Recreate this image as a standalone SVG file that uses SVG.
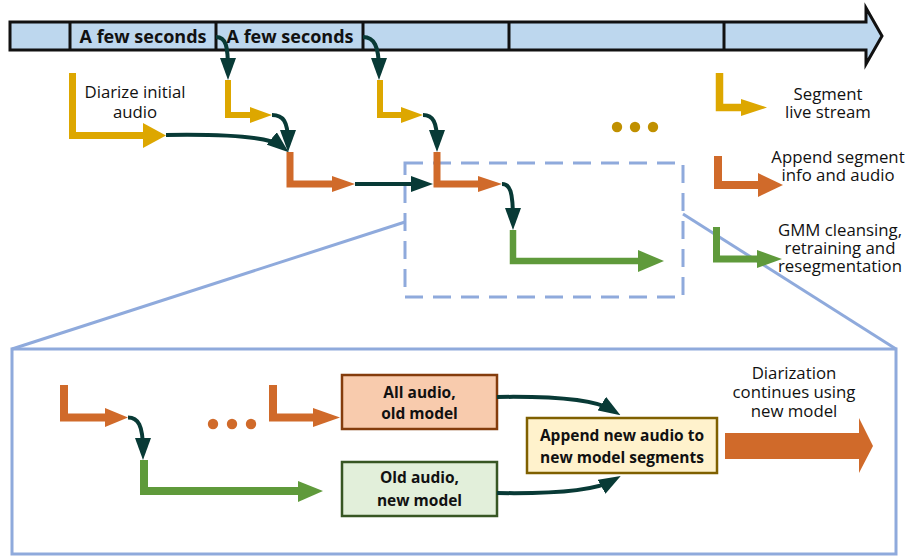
<svg xmlns="http://www.w3.org/2000/svg" width="908" height="556" viewBox="0 0 908 556">
  <style>
    .t { font-family: "Open Sans", "Noto Sans", "Liberation Sans", sans-serif; font-size: 16.8px; fill: #111; text-anchor: middle; }
    .tl { font-family: "Open Sans", "Noto Sans", "Liberation Sans", sans-serif; font-size: 18px; font-weight: bold; fill: #111; text-anchor: middle; }
    .tb { font-family: "Open Sans", "Noto Sans", "Liberation Sans", sans-serif; font-size: 15.5px; font-weight: bold; fill: #111; text-anchor: middle; }
    .gold { stroke: #DDA700; fill: none; stroke-linejoin: miter; }
    .goldh { fill: #DDA700; }
    .org { stroke: #D06A2A; fill: none; stroke-linejoin: miter; }
    .orgh { fill: #D06A2A; }
    .grn { stroke: #5F9A3B; fill: none; stroke-linejoin: miter; }
    .grnh { fill: #5F9A3B; }
    .conn { stroke: #083A36; stroke-width: 4; fill: none; marker-end: url(#dk); }
    .zoom { stroke: #8FAADC; stroke-width: 3; fill: none; }
  </style>
  <defs>
    <marker id="dk" viewBox="0 0 22 16" refX="12" refY="8" markerWidth="22" markerHeight="16" markerUnits="userSpaceOnUse" orient="auto">
      <path d="M0,0 L22,8 L0,16 Z" fill="#083A36"/>
    </marker>
  </defs>

  <!-- zoom callout lines and frames -->
  <g id="zoom-callout">
    <line class="zoom" x1="12" y1="349" x2="405" y2="222"/>
    <line class="zoom" x1="683" y1="214" x2="896" y2="349"/>
    <rect class="zoom" x="405" y="163" width="278" height="134" stroke-dasharray="18 10"/>
    <rect class="zoom" x="12" y="349" width="884" height="205"/>
  </g>

  <!-- live stream timeline -->
  <g id="timeline">
    <path d="M10,22 L866,22 L866,8 L882,36 L866,64 L866,50 L10,50 Z" fill="#BDD7EE" stroke="#111" stroke-width="3" stroke-linejoin="miter"/>
    <g stroke="#111" stroke-width="3">
      <line x1="70" y1="22" x2="70" y2="50"/>
      <line x1="216" y1="22" x2="216" y2="50"/>
      <line x1="363" y1="22" x2="363" y2="50"/>
      <line x1="509" y1="22" x2="509" y2="50"/>
      <line x1="724" y1="22" x2="724" y2="50"/>
    </g>
    <text class="tl" x="143" y="42.5">A few seconds</text>
    <text class="tl" x="290" y="42.5">A few seconds</text>
  </g>

  <!-- segment steps -->
  <g id="diarize-initial">
    <path class="gold" stroke-width="7" d="M72.5,73 V135.5 H144"/>
    <polygon class="goldh" points="143,123 166,135.5 143,148"/>
    <text class="t" x="135" y="98"><tspan x="135">Diarize initial</tspan><tspan x="135" dy="20">audio</tspan></text>
  </g>
  <g id="seg-1">
    <path class="gold" stroke-width="6" d="M228,80 V115 H251"/>
    <polygon class="goldh" points="250,107 272,115 250,123"/>
  </g>
  <g id="seg-2">
    <path class="gold" stroke-width="6" d="M380,80 V115 H402"/>
    <polygon class="goldh" points="401,107 423,115 401,123"/>
  </g>
  <g id="append-1">
    <path class="org" stroke-width="7" d="M290,152 V184 H333"/>
    <polygon class="orgh" points="332,176 355,184 332,192"/>
  </g>
  <g id="append-2">
    <path class="org" stroke-width="7" d="M437,152 V184 H479"/>
    <polygon class="orgh" points="478,176 502,184 478,192"/>
  </g>
  <g id="gmm-1">
    <path class="grn" stroke-width="6.5" d="M513,230 V261 H639"/>
    <polygon class="grnh" points="638,250 664,261 638,272"/>
  </g>
  <g id="more-dots">
    <circle cx="617" cy="127" r="5.2" fill="#C09000"/>
    <circle cx="635" cy="127" r="5.2" fill="#C09000"/>
    <circle cx="653" cy="127" r="5.2" fill="#C09000"/>
  </g>

  <!-- legend -->
  <g id="legend-segment">
    <path class="gold" stroke-width="7.5" d="M719.5,73 V107.5 H742"/>
    <polygon class="goldh" points="741,99 767,107.5 741,116"/>
    <text class="t" x="828" y="100"><tspan x="828">Segment</tspan><tspan x="828" dy="18">live stream</tspan></text>
  </g>
  <g id="legend-append">
    <path class="org" stroke-width="8" d="M718,156 V185 H759"/>
    <polygon class="orgh" points="758,173 783,185 758,197"/>
    <text class="t" x="838" y="163"><tspan x="838">Append segment</tspan><tspan x="838" dy="18">info and audio</tspan></text>
  </g>
  <g id="legend-gmm">
    <path class="grn" stroke-width="7" d="M716.5,227 V259 H758"/>
    <polygon class="grnh" points="757,250 782,259 757,268"/>
    <text class="t" x="840" y="236"><tspan x="840">GMM cleansing,</tspan><tspan x="840" dy="18">retraining and</tspan><tspan x="840" dy="18">resegmentation</tspan></text>
  </g>

  <!-- detail view -->
  <g id="detail-append">
    <path class="org" stroke-width="8" d="M64,385 V417.5 H106"/>
    <polygon class="orgh" points="105,408 128,417.5 105,427"/>
  </g>
  <g id="detail-gmm">
    <path class="grn" stroke-width="8" d="M144,460 V491 H299"/>
    <polygon class="grnh" points="298,481 323,491 298,502"/>
  </g>
  <g id="detail-dots">
    <circle cx="213" cy="424" r="5.2" fill="#D06A2A"/>
    <circle cx="232" cy="424" r="5.2" fill="#D06A2A"/>
    <circle cx="251" cy="424" r="5.2" fill="#D06A2A"/>
  </g>
  <g id="detail-append-last">
    <path class="org" stroke-width="8" d="M273,385 V417.5 H314"/>
    <polygon class="orgh" points="313,408 340,417.5 313,427"/>
  </g>
  <g id="all-audio-old-model">
    <rect x="342" y="375" width="155" height="54" fill="#F8CBAD" stroke="#843C0C" stroke-width="2.5"/>
    <text class="tb" x="419.5" y="398"><tspan x="419.5">All audio,</tspan><tspan x="419.5" dy="21">old model</tspan></text>
  </g>
  <g id="old-audio-new-model">
    <rect x="342" y="462" width="155" height="54" fill="#E2EFDA" stroke="#375623" stroke-width="2.5"/>
    <text class="tb" x="419.5" y="483"><tspan x="419.5">Old audio,</tspan><tspan x="419.5" dy="23">new model</tspan></text>
  </g>
  <g id="append-new-audio">
    <rect x="527" y="418" width="190" height="55" fill="#FFF2CC" stroke="#7F6000" stroke-width="2.5"/>
    <text class="tb" x="622" y="441"><tspan x="622">Append new audio to</tspan><tspan x="622" dy="22">new model segments</tspan></text>
  </g>
  <g id="continues">
    <polygon points="725,433 859,433 859,418 873,446 859,473 859,459 725,459" fill="#D06A2A"/>
    <text class="t" x="794" y="379"><tspan x="794">Diarization</tspan><tspan x="794" dy="19">continues using</tspan><tspan x="794" dy="19">new model</tspan></text>
  </g>

  <!-- connectors -->
  <g id="connectors">
    <path class="conn" d="M216,37 C226,37 228,46 228,70"/>
    <path class="conn" d="M166,135 C230,134 270,137 281,146"/>
    <path class="conn" d="M272,115 C283,115 288,121 288,142"/>
    <path class="conn" d="M363,37 C374,37 379,46 379,70"/>
    <path class="conn" d="M423,115 C433,115 437,122 437,142"/>
    <path class="conn" d="M355,184 L423,184"/>
    <path class="conn" d="M502,184 C510,184 513,191 513,220"/>
    <path class="conn" d="M128,417.5 C138,417.5 143,425 143,450"/>
    <path class="conn" d="M497,397 C560,396 596,400 612,410"/>
    <path class="conn" d="M497,493 C560,494 596,490 612,481"/>
  </g>
</svg>
